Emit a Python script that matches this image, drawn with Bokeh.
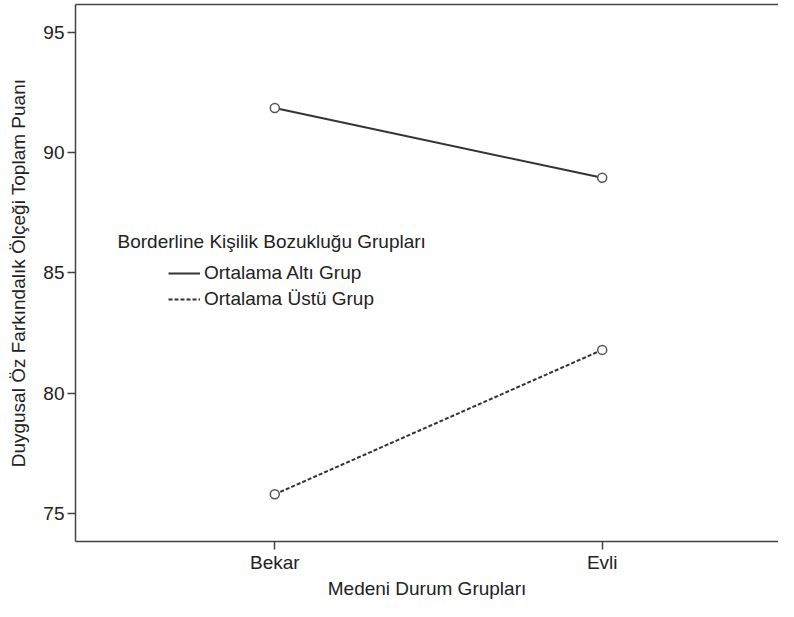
from bokeh.plotting import figure
from bokeh.models import (FixedTicker, LinearAxis, Legend, LegendItem, Label, Range1d)
from bokeh.embed import file_html
from bokeh.resources import INLINE

# ---- data ----
categories = ["Bekar", "Evli"]
series_names = ["Ortalama Altı Grup", "Ortalama Üstü Grup"]
alti_values = [91.85, 88.95]
ustu_values = [75.8, 81.8]
y_ticks = [75, 80, 85, 90, 95]
x_title = "Medeni Durum Grupları"
y_title = "Duygusal Öz Farkındalık Ölçeği Toplam Puanı"
legend_title = "Borderline Kişilik Bozukluğu Grupları"

positions = list(range(1, len(categories) + 1))

FONT = "Liberation Sans"
TXT = "#222222"
AX = "#444444"
FS = "19px"

p = figure(width=778, height=601, output_backend="svg", toolbar_location=None,
           x_range=Range1d(0.3913, 2.5385), y_range=Range1d(73.84, 96.15),
           min_border_left=75, min_border_right=0, min_border_top=4, min_border_bottom=60,
           background_fill_color="white", border_fill_color="white")
p.outline_line_color = None
p.grid.visible = False

# axes styling
p.xaxis.ticker = FixedTicker(ticks=positions)
p.xaxis.major_label_overrides = {pos: c for pos, c in zip(positions, categories)}
p.yaxis.ticker = FixedTicker(ticks=y_ticks)
for ax in (p.xaxis[0], p.yaxis[0]):
    ax.axis_line_color = AX
    ax.axis_line_width = 1.5
    ax.major_tick_line_color = AX
    ax.major_tick_line_width = 1.5
    ax.major_tick_out = 8
    ax.major_tick_in = 0
    ax.minor_tick_line_color = None
    ax.major_label_text_font = FONT
    ax.major_label_text_font_size = FS
    ax.major_label_text_color = TXT
    ax.axis_label_text_font = FONT
    ax.axis_label_text_font_size = FS
    ax.axis_label_text_font_style = "normal"
    ax.axis_label_text_color = TXT
p.xaxis.axis_label = x_title
p.yaxis.axis_label = y_title
p.yaxis.major_label_standoff = 3
p.yaxis.axis_label_standoff = 11
p.xaxis.major_label_standoff = 2
p.xaxis.axis_label_standoff = 2

# top frame line
top = LinearAxis(ticker=FixedTicker(ticks=[]), axis_line_color=AX, axis_line_width=1.5,
                 major_tick_out=0, major_tick_in=0, minor_tick_out=0, minor_tick_in=0,
                 major_label_text_font_size="0px")
p.add_layout(top, "above")

# series
r1 = p.line(positions, alti_values, line_color="#333333", line_width=2)
c1 = p.scatter(positions, alti_values, marker="circle", size=9, line_color="#555555",
               line_width=1.5, fill_color="white")
r2 = p.line(positions, ustu_values, line_color="#333333", line_width=2, line_dash="4 2")
c2 = p.scatter(positions, ustu_values, marker="circle", size=9, line_color="#555555",
               line_width=1.5, fill_color="white")

legend = Legend(items=[LegendItem(label=series_names[0], renderers=[r1]),
                       LegendItem(label=series_names[1], renderers=[r2])],
                location=(93, 231), orientation="vertical",
                glyph_width=32, glyph_height=20, label_height=20, label_standoff=4,
                spacing=4, padding=0, margin=0,
                border_line_color=None, background_fill_alpha=0,
                label_text_font=FONT, label_text_font_size=FS, label_text_color=TXT)
p.add_layout(legend, "center")

title_lbl = Label(x=42, y=300, x_units="screen", y_units="screen", text=legend_title,
                  text_font=FONT, text_font_size=FS, text_color=TXT,
                  text_baseline="middle", text_align="left")
p.add_layout(title_lbl)

open("out.html", "w").write(file_html(p, INLINE))
